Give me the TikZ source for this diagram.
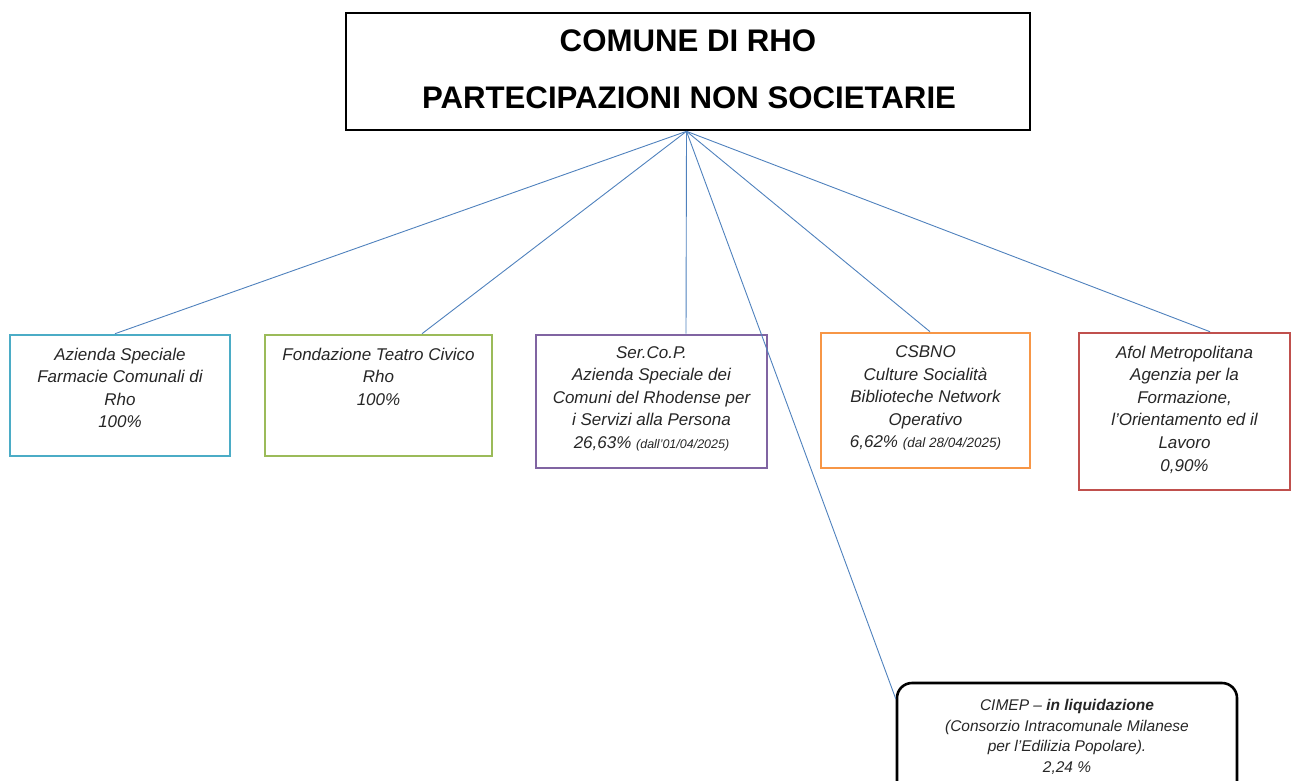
\documentclass[tikz,border=0pt]{standalone}
\usepackage{fontspec}
\setmainfont{Liberation Sans}
\definecolor{caqua}{HTML}{4BACC6}
\definecolor{cgreen}{HTML}{9BBB59}
\definecolor{cpurple}{HTML}{8064A2}
\definecolor{corange}{HTML}{F79646}
\definecolor{cred}{HTML}{C0504D}
\definecolor{cline}{HTML}{4F81BD}
\begin{document}
\begin{tikzpicture}[x=1pt,y=-1pt,
  box/.style={draw=#1, line width=2.6pt, rectangle, inner sep=0pt},
  conn/.style={draw=cline, line width=0.9pt},
  txt/.style={font=\itshape\fontsize{17}{22.6}\selectfont, align=center, inner sep=0pt, anchor=north, text=black!85},
  ctxt/.style={font=\itshape\fontsize{15.5}{20.7}\selectfont, align=center, inner sep=0pt, anchor=north, text=black!85},
  ttl/.style={font=\bfseries\fontsize{31.2}{36}\selectfont, inner sep=0pt, anchor=base}]
\useasboundingbox (0,0) rectangle (1292,780);
\clip (0,0) rectangle (1292,780);
% boxes
\node[box=black, minimum width=684pt, minimum height=117pt] (top) at (688,71.5) {};
\node[ttl] (tl1) at (688,51) {COMUNE DI RHO};
\node[ttl] (tl2) at (689,108) {PARTECIPAZIONI NON SOCIETARIE};
\coordinate (hub) at ([xshift=-1.5pt]top.south);

\node[box=caqua, minimum width=220pt, minimum height=121pt] (b1) at (120,395.5) {};
\node[box=cgreen, minimum width=227pt, minimum height=121pt] (b2) at (378.5,395.5) {};
\node[box=cpurple, minimum width=231pt, minimum height=133pt] (b3) at (651.5,401.5) {};
\node[box=corange, minimum width=209pt, minimum height=135pt] (b4) at (925.5,400.5) {};
\node[box=cred, minimum width=211pt, minimum height=157pt] (b5) at (1184.5,411.5) {};
\node[box=black, rounded corners=15pt, minimum width=340pt, minimum height=117pt] (c) at (1067,741.5) {};

% texts
\node[txt] (t1) at (120,347.5) {Azienda Speciale\\Farmacie Comunali di\\Rho\\100\%};
\node[txt] (t2) at (378.5,347.5) {Fondazione Teatro Civico\\Rho\\100\%};
\node[txt] (t3) at (651.5,346) {Ser.Co.P.\\Azienda Speciale dei\\Comuni del Rhodense per\\i Servizi alla Persona\\26,63\% {\fontsize{12.5}{13}\selectfont (dall'01/04/2025)}};
\node[txt] (t4) at (925.5,345.5) {CSBNO\\Culture Socialità\\Biblioteche Network\\Operativo\\6,62\% {\fontsize{13.5}{13}\selectfont (dal 28/04/2025)}};
\node[txt] (t5) at (1184.5,345.5) {Afol Metropolitana\\Agenzia per la\\Formazione,\\l'Orientamento ed il\\Lavoro\\0,90\%};
\node[ctxt] (t6) at (1067,699) {CIMEP -- \textbf{in liquidazione}\\(Consorzio Intracomunale Milanese\\per l'Edilizia Popolare).\\2,24 \%};

% connectors
\draw[conn] (hub) -- ([xshift=-5pt]b1.north);
\draw[conn] (hub) -- ([xshift=43.5pt]b2.north);
\draw[conn] (hub) -- ([xshift=34.5pt]b3.north);
\draw[conn] (hub) -- ([xshift=4.5pt]b4.north);
\draw[conn] (hub) -- ([xshift=25.5pt]b5.north);
\draw[conn] (hub) -- ([yshift=-17pt]c.north west);
\end{tikzpicture}
\end{document}
